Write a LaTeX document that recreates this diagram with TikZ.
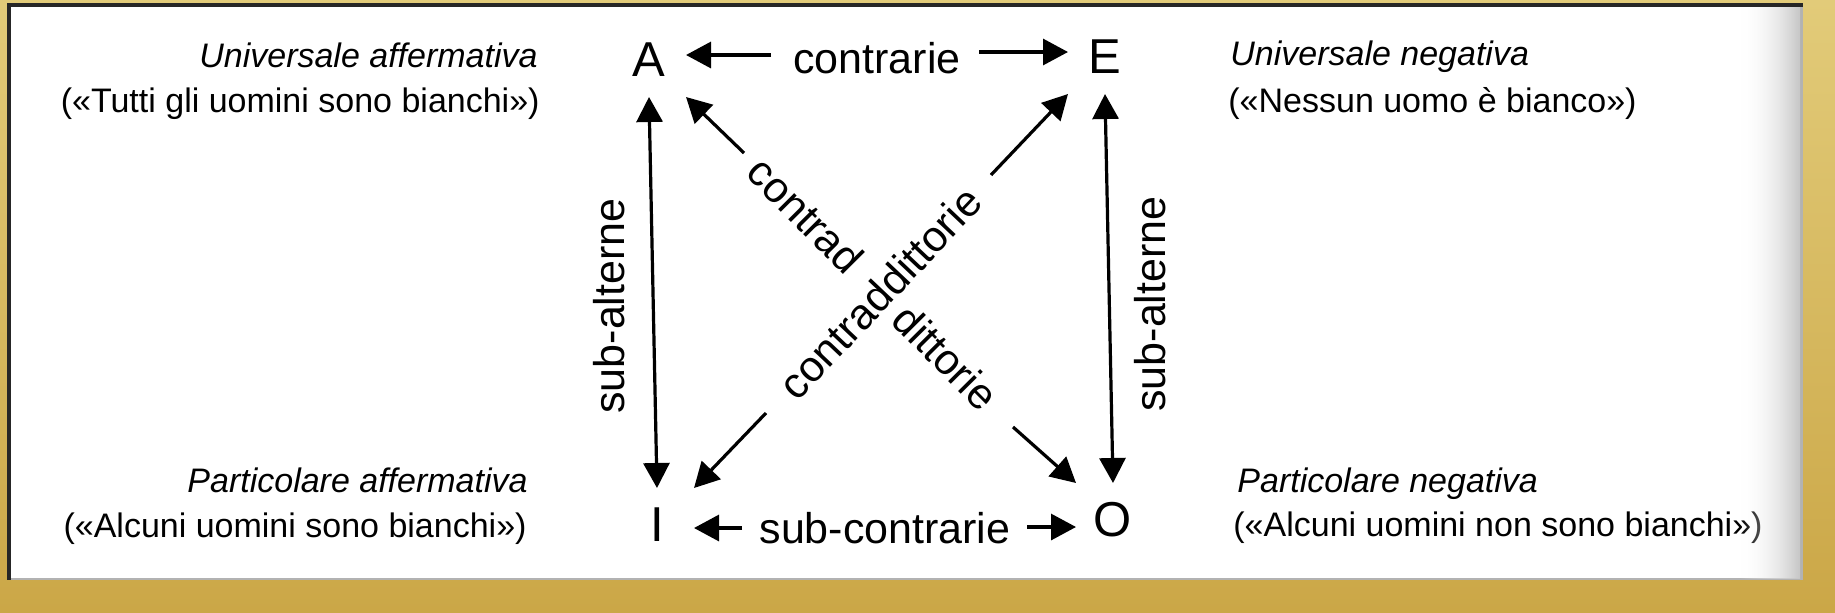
\documentclass[tikz,border=0pt]{standalone}
\usepackage{fontspec}
\setmainfont{Liberation Sans}
\usetikzlibrary{arrows.meta,fadings}
\definecolor{goldA}{HTML}{E2CB79}
\definecolor{goldB}{HTML}{CBA747}
\tikzset{
  letter/.style={font=\fontsize{24.5}{28}\selectfont, minimum size=37pt, inner sep=0pt, outer sep=0pt},
  lab/.style={font=\fontsize{21.5}{25}\selectfont, inner sep=0pt},
  captxt/.style={font=\fontsize{17}{20}\selectfont, inner sep=0pt},
  captxti/.style={font=\fontsize{17}{20}\selectfont\itshape, inner sep=0pt},
  arr/.style={line width=1.6pt, -{Triangle[length=12.5pt,width=13pt]}},
  darr/.style={line width=1.6pt, {Triangle[length=12.5pt,width=13pt]}-{Triangle[length=12.5pt,width=13pt]}},
}
\begin{document}
\begin{tikzpicture}[x=0.5pt,y=-0.5pt]
\useasboundingbox (0,0) rectangle (1835,612);
\shade[top color=goldA, bottom color=goldB] (0,0) rectangle (1835,612);
\fill[gray!60] (7,3) rectangle (1803,580);
\fill[black!85] (7,3) rectangle (1803,7);
\fill[black!85] (7,3) rectangle (11,580);
\fill[white] (11,7) rectangle (1800,578);

% letters
\node[letter] (A) at (649,60) {A};
\node[letter] (E) at (1105,57) {E};
\node[letter] (I) at (657,525) {I};
\node[letter] (O) at (1113,520) {O};

% relation labels
\node[lab, anchor=base] (contr) at (877,73) {contrarie};
\node[lab, anchor=base] (subcontr) at (885,543) {sub-contrarie};
\node[lab, rotate=90] (salt1) at (609,306) {sub-alterne};
\node[lab, rotate=90] (salt2) at (1150,304) {sub-alterne};
\node[lab, rotate=-45.2] (cd1) at (806,215) {contrad};
\node[lab, rotate=-45.2] (cd2) at (946,357) {dittorie};
\node[lab, rotate=46.6] (cd3) at (880,293) {contraddittorie};

% arrow start points
\coordinate (cL) at (771,55);
\coordinate (cR) at (979,52);
\coordinate (sL) at (742,528);
\coordinate (sR) at (1027,527);
\coordinate (dA) at (744,153);
\coordinate (dE) at (991,175);
\coordinate (dI) at (766,413);
\coordinate (dO) at (1013,427);

\draw[arr] (cL) -- (cL -| A.east);
\draw[arr] (cR) -- (cR -| E.west);
\draw[arr] (sL) -- (sL -| I.east);
\draw[arr] (sR) -- (sR -| O.west);
\draw[arr] (dA) -- (A.south east);
\draw[arr] (dE) -- (E.south west);
\draw[arr] (dI) -- (I.north east);
\draw[arr] (dO) -- (O.north west);
\draw[darr] (A.south) -- (I.north);
\draw[darr] (E.south) -- (O.north);

% captions
\node[captxti, anchor=base east] (ua1) at (538,67) {Universale affermativa};
\node[captxt, anchor=base east] (ua2) at (540,112) {(«Tutti gli uomini sono bianchi»)};
\node[captxti, anchor=base east] (pa1) at (528,492) {Particolare affermativa};
\node[captxt, anchor=base east] (pa2) at (527,537) {(«Alcuni uomini sono bianchi»)};
\node[captxti, anchor=base west] (un1) at (1230,65) {Universale negativa};
\node[captxt, anchor=base west] (un2) at (1228,112) {(«Nessun uomo è bianco»)};
\node[captxti, anchor=base west] (pn1) at (1237,492) {Particolare negativa};
\node[captxt, anchor=base west] (pn2) at (1233,536) {(«Alcuni uomini non sono bianchi»)};

% right-hand page shadow
\shade[left color=white, right color=gray!45, path fading=west] (1740,7) rectangle (1800,578);
\end{tikzpicture}
\end{document}
